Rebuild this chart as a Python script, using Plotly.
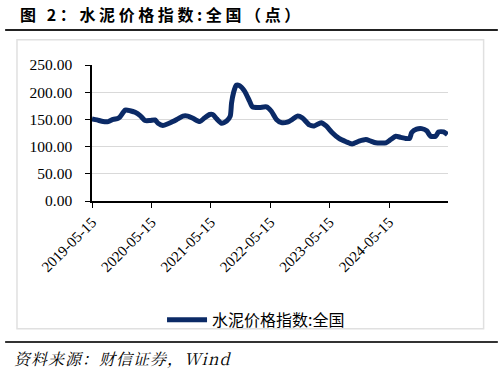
import plotly.graph_objects as go

dates = [
    "2019-05-15", "2019-06-15", "2019-07-23", "2019-08-23", "2019-09-22", "2019-10-23",
    "2019-11-04", "2019-12-05", "2020-01-04", "2020-02-04", "2020-03-06", "2020-04-05",
    "2020-05-06", "2020-06-05", "2020-06-24", "2020-07-24", "2020-08-24", "2020-09-23",
    "2020-10-24", "2020-11-24", "2020-12-24", "2021-01-24", "2021-03-08", "2021-04-07",
    "2021-05-08", "2021-05-26", "2021-06-20", "2021-07-20", "2021-08-20", "2021-09-11",
    "2021-09-19", "2021-10-02", "2021-10-18", "2021-11-07", "2021-12-08", "2022-01-07",
    "2022-01-26", "2022-03-10", "2022-04-22", "2022-05-22", "2022-06-22", "2022-07-23",
    "2022-08-28", "2022-09-28", "2022-10-28", "2022-11-28", "2023-01-10", "2023-02-09",
    "2023-03-24", "2023-04-24", "2023-05-30", "2023-07-12", "2023-08-24", "2023-09-30",
    "2023-11-12", "2023-12-24", "2024-01-24", "2024-02-23", "2024-04-25", "2024-05-25",
    "2024-06-25", "2024-07-25", "2024-08-25", "2024-09-18", "2024-10-01", "2024-10-31",
    "2024-12-01", "2025-01-01", "2025-01-25", "2025-02-25", "2025-03-15", "2025-04-15",
    "2025-05-09",
]
values = [
    151, 149, 146, 146, 150, 152,
    155, 167, 166, 163, 157, 148,
    148, 149, 143, 139, 142, 146,
    151, 156, 156, 152, 146, 153,
    159, 159, 151, 143, 147, 156,
    180, 200, 213, 212, 202, 184,
    173, 172, 173, 165, 150, 144,
    145, 150, 156, 153, 140, 138,
    144, 138, 126, 115, 109, 105,
    110, 113, 110, 107, 107, 113,
    119, 117, 115, 115, 126, 132,
    133, 129, 119, 119, 127, 127,
    122,
]
series_name = "水泥价格指数:全国"
x_ticks = ["2019-05-15", "2020-05-15", "2021-05-15", "2022-05-15", "2023-05-15", "2024-05-15"]
y_ticks = [0, 50, 100, 150, 200, 250]
title_text = "图 2：水泥价格指数:全国（点）"
source_text = "资料来源：财信证券，Wind"

fig = go.Figure()
fig.add_trace(go.Scatter(
    x=dates, y=values, mode="lines", name=series_name,
    line=dict(color="#0b2a66", width=5, shape="spline", smoothing=0.6),
))

fig.update_layout(
    width=504, height=374,
    margin=dict(l=92, r=56, t=65, b=173, autoexpand=False),
    paper_bgcolor="white", plot_bgcolor="white",
    showlegend=True,
    legend=dict(
        orientation="h", xref="container", yref="container",
        x=0.508, xanchor="center", y=0.145, yanchor="middle",
        font=dict(family="Noto Sans CJK SC", size=16, color="black"),
        itemwidth=40, bgcolor="rgba(0,0,0,0)",
    ),
    xaxis=dict(
        type="date", range=["2019-05-15", "2025-05-12"],
        tickvals=x_ticks, ticktext=x_ticks, tickangle=-45,
        showgrid=False, showline=True, linecolor="black", linewidth=1.5,
        ticks="outside", ticklen=5, tickcolor="black", automargin=False,
        tickfont=dict(family="Liberation Serif", size=15, color="black"),
        zeroline=False,
    ),
    yaxis=dict(
        range=[0, 250], tickvals=y_ticks, ticktext=[f"{v:.2f}" for v in y_ticks],
        showgrid=True, gridcolor="#d9d9d9", gridwidth=1,
        showline=True, linecolor="black", linewidth=1.5,
        ticks="outside", ticklen=5, tickcolor="black", automargin=False,
        ticklabelstandoff=10,
        tickfont=dict(family="Liberation Serif", size=15.5, color="black"),
        zeroline=False,
    ),
    shapes=[
        dict(type="line", xref="paper", yref="paper", x0=-0.244, x1=1.14, y0=1.257, y1=1.257,
             line=dict(color="#222222", width=2)),
        dict(type="rect", xref="paper", yref="paper", x0=-0.2107, x1=1.1, y0=1.186, y1=-0.94,
             line=dict(color="#e0e0e0", width=1.5)),
        dict(type="line", xref="paper", yref="paper", x0=-0.244, x1=1.14, y0=-1.037, y1=-1.037,
             line=dict(color="#333333", width=2)),
    ],
    annotations=[
        dict(text=f"<b><span style='letter-spacing:3.6px'>{title_text}</span></b>", xref="paper", yref="paper",
             x=-0.208, y=1.375, xanchor="left", yanchor="middle", showarrow=False,
             font=dict(family="Noto Sans CJK SC", size=16, color="black")),
        dict(text=f"<i><span style='letter-spacing:1px'>{source_text}</span></i>", xref="paper", yref="paper",
             x=-0.225, y=-1.155, xanchor="left", yanchor="middle", showarrow=False,
             font=dict(family="Noto Serif CJK SC, Liberation Serif, Noto Sans CJK SC", size=16, color="black")),
    ],
)

fig.write_html("out.html", config={"displayModeBar": False},
               post_script="document.body.style.margin='0';")
